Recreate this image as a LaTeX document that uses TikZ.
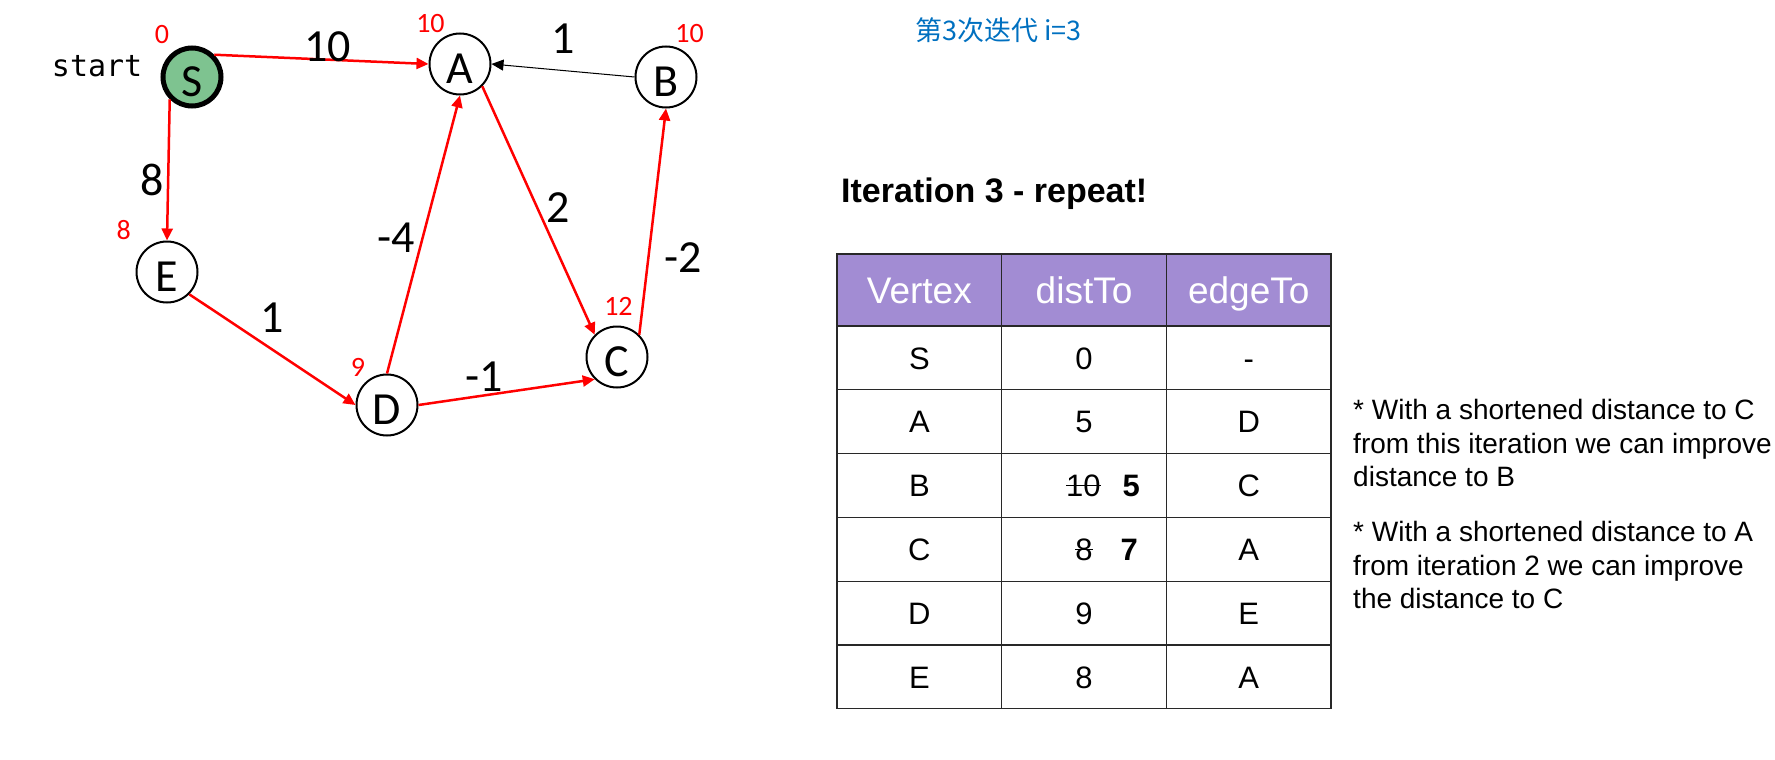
\documentclass[tikz,border=0pt]{standalone}
\usepackage{fontspec}
\setmainfont{Liberation Sans}
\newfontfamily\graphfont{Carlito}
\newfontfamily\startfont{DejaVu Sans Mono}
\newfontfamily\cjkfont{Noto Sans CJK SC}
\usetikzlibrary{arrows.meta,positioning}
\definecolor{startgreen}{RGB}{126,195,144}
\definecolor{headpurple}{RGB}{162,140,211}
\definecolor{noteblue}{RGB}{0,112,192}
\definecolor{gridgray}{RGB}{40,40,40}
\newcommand{\struck}[1]{\setbox0\hbox{#1}\rlap{\rule[0.33em]{\wd0}{1.3pt}}\box0}

\begin{document}
\begin{tikzpicture}[x=1pt, y=-1pt, >={Triangle[length=12pt,width=11pt]},
    main node/.style={circle, draw, line width=2pt, minimum size=61pt, inner sep=0pt, text height=38.6pt, text depth=0pt, font=\graphfont\fontsize{46}{46}\selectfont},
    start node/.style={main node, fill=startgreen, line width=5pt, minimum size=58pt}]
    \tikzstyle{dist}=[text=red, inner sep=0pt, text height=, text depth=, font=\graphfont\fontsize{28}{28}\selectfont]
    \tikzstyle{weight}=[text=black, inner sep=0pt, font=\graphfont\fontsize{46}{46}\selectfont]
    \tikzstyle{head cell}=[draw=gridgray, line width=1.3pt, fill=headpurple, text=white, minimum width=164.7pt, minimum height=72pt, outer sep=0pt, inner sep=0pt, text height=26.5pt, text depth=0pt, font=\fontsize{37}{37}\selectfont]
    \tikzstyle{body cell}=[draw=gridgray, line width=1.3pt, minimum width=164.7pt, minimum height=63.8pt, outer sep=0pt, inner sep=0pt, text height=22.2pt, text depth=0pt, font=\fontsize{31}{31}\selectfont]
    \tikzstyle{note}=[align=left, inner sep=0pt, font=\fontsize{28}{33.5}\selectfont]
    \useasboundingbox (0,0) rectangle (1775,760);

      \node[start node] (S) at (192,77) [label={[dist, label distance=9pt]124:0}] {S};
      \node[main node] (A) at (460,64) [label={[dist, label distance=3pt]116:10}] {A};
      \node[main node] (B) at (666,77) [label={[dist, label distance=4pt]75:10}] {B};
      \node[main node] (E) at (167,272) [label={[dist, label distance=17pt]138:8}] {E};
      \node[main node] (D) at (387,405) [label={[dist, label distance=4pt]128:9}] {D};
      \node[main node] (C) at (617,357) [label={[dist, label distance=10pt]88:12}] {C};
      \node[font=\startfont\fontsize{30}{30}\selectfont, inner sep=0pt, left=18pt of S, yshift=10.5pt] (start) {start};

      \path[->, red, line width=2.5pt]
        (S.north east) edge node[weight, pos=0.53, above=-3pt] {10} (A.west)
        (S.south west) edge node[weight, pos=0.57, left=3pt] {8} (E.north)
        (E.south east) edge node[weight, pos=0.5, above=16pt] {1} (D.west)
        (D.north) edge node[weight, pos=0.49, left=7pt] {-4} (A.south)
        (D.east) edge node[weight, pos=0.37, above=3pt] {-1} (C.south west)
        (A.south east) edge node[weight, pos=0.49, right=8pt] {2} (C.north west)
        (C.north east) edge node[weight, pos=0.34, right=15pt] {-2} (B.south);
      \path[->, black, line width=1pt]
        (B.west) edge node[weight, above=16pt] {1} (A.east);

      \node[anchor=west, inner sep=0pt, text=noteblue, font=\cjkfont\fontsize{27}{27}\selectfont] (iter) at (915,30) {第3次迭代 i=3};
      \node[anchor=base west, inner sep=0pt, font=\bfseries\fontsize{34}{34}\selectfont] (title) at (841,202) {Iteration 3 - repeat!};

      \node[head cell] (h1) at (919.35,290) {Vertex};
      \node[head cell, right=0pt of h1] (h2) {distTo};
      \node[head cell, right=0pt of h2] (h3) {edgeTo};
      \node[body cell, below=0pt of h1] (s1) {S};
      \node[body cell, right=0pt of s1] (s2) {0};
      \node[body cell, right=0pt of s2] (s3) {-};
      \node[body cell, below=0pt of s1] (a1) {A};
      \node[body cell, right=0pt of a1] (a2) {5};
      \node[body cell, right=0pt of a2] (a3) {D};
      \node[body cell, below=0pt of a1] (b1) {B};
      \node[body cell, right=0pt of b1] (b2) {\hspace*{38pt}\struck{10}\hspace{22pt}\textbf{5}};
      \node[body cell, right=0pt of b2] (b3) {C};
      \node[body cell, below=0pt of b1] (c1) {C};
      \node[body cell, right=0pt of c1] (c2) {\hspace*{45pt}\struck{8}\hspace{28pt}\textbf{7}};
      \node[body cell, right=0pt of c2] (c3) {A};
      \node[body cell, below=0pt of c1] (d1) {D};
      \node[body cell, right=0pt of d1] (d2) {9};
      \node[body cell, right=0pt of d2] (d3) {E};
      \node[body cell, below=0pt of d1] (e1) {E};
      \node[body cell, right=0pt of e1] (e2) {8};
      \node[body cell, right=0pt of e2] (e3) {A};

      \node[note, anchor=north west] (note1) at (1353,399.5) {* With a shortened distance to C\\from this iteration we can improve\\distance to B};
      \node[note, anchor=north west] (note2) at (1353,521.5) {* With a shortened distance to A\\from iteration 2 we can improve\\the distance to C};

\end{tikzpicture}
\end{document}
